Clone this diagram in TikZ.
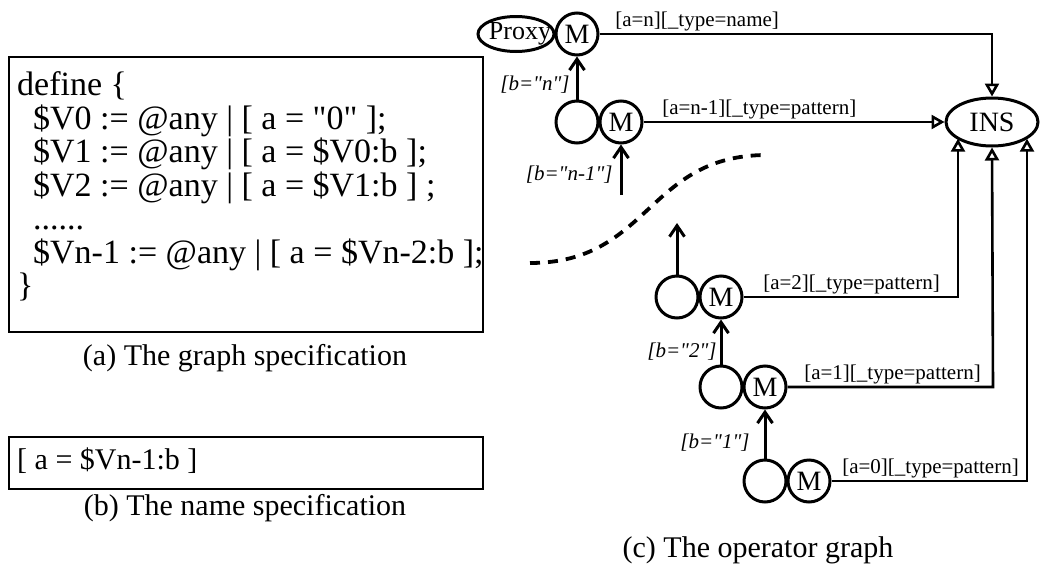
\documentclass[tikz,border=0pt]{standalone}
\usepackage{fontspec}
% plain ASCII quotes, no TeX quote ligatures
\setmainfont{Liberation Serif}[Ligatures=TeXOff]
\usetikzlibrary{arrows.meta,shapes.geometric}
\newcommand{\us}{{\char"5F}}

\begin{document}
\begin{tikzpicture}[x=1pt,y=-1pt,
  frame/.style={draw, line width=2.6pt},
  code/.style={anchor=base west, inner sep=0pt, font=\fontsize{34}{34}\selectfont},
  namecode/.style={anchor=base west, inner sep=0pt, font=\fontsize{30}{30}\selectfont},
  caption/.style={anchor=base, inner sep=0pt, font=\fontsize{30}{30}\selectfont},
  op/.style={circle, draw, line width=3pt, minimum size=42pt, inner sep=0pt,
             font=\fontsize{28}{28}\selectfont},
  proxyshape/.style={ellipse, draw, line width=3pt, minimum width=76pt,
             minimum height=35pt, inner sep=0pt},
  insshape/.style={ellipse, draw, line width=3pt, minimum width=92pt,
             minimum height=48pt, inner sep=0pt, font=\fontsize{28}{28}\selectfont},
  feed/.style={line width=2.6pt, -{Triangle[open, length=13pt, width=14pt, line width=2.6pt]}},
  chain/.style={line width=3pt, -{Straight Barb[length=11pt, width=15pt, line width=3pt]}},
  elab/.style={font=\fontsize{21}{21}\selectfont, inner sep=1.5pt, anchor=south west},
  blab/.style={font=\fontsize{21}{21}\selectfont\itshape, inner sep=1pt, anchor=east},
  gap/.style={line width=3.8pt, dash pattern=on 10pt off 8pt}
]
\useasboundingbox (0,0) rectangle (1041,565);

% (a) graph specification
\draw[frame] (9,57) rectangle (483,332);
\node[code] (l0) at (17,95.5) {define \{};
\node[code] (l1) at (33,129) {\$V0 := @any | [ a = "0" ];};
\node[code] (l2) at (33,162.5) {\$V1 := @any | [ a = \$V0:b ];};
\node[code] (l3) at (33,196) {\$V2 := @any | [ a = \$V1:b ] ;};
\node[code] (l4) at (33,229.5) {......};
\node[code] (l5) at (33,263) {\$Vn-1 := @any | [ a = \$Vn-2:b ];};
\node[code] (l6) at (17,296.5) {\}};
\node[caption] (capa) at (245,365) {(a) The graph specification};

% (b) name specification
\draw[frame] (9,437) rectangle (483,489);
\node[namecode] (nm) at (17,469) {[ a = \$Vn-1:b ]};
\node[caption] (capb) at (245,515) {(b) The name specification};

% (c) operator graph
\node[proxyshape, label={[xshift=4pt, font=\fontsize{26}{26}\selectfont]center:Proxy}] (proxy) at (516,34) {};
\node[op] (mn)  at (577,34)  {M};
\node[op] (ln1) at (577,122) {};
\node[op] (mn1) at (621,122) {M};
\node[op] (lb2) at (677,297) {};
\node[op] (mb2) at (721,297) {M};
\node[op] (lb1) at (721,387) {};
\node[op] (mb1) at (765,387) {M};
\node[op] (lb0) at (765,481) {};
\node[op] (mb0) at (809,481) {M};
\node[insshape] (ins) at (992,122) {INS};

\coordinate (in1) at (621,195);
\coordinate (up2) at (677,223);
\coordinate (k2) at (958,297);
\coordinate (k1) at (993,387);
\coordinate (k0) at (1027,481);
\coordinate (d1) at (530,263);
\coordinate (d2) at (767,155);

% chain of b-values
\draw[chain] (ln1.north) -- node[blab, pos=.35, xshift=-5pt] {[b="n"]} (mn.south);
\draw[chain] (in1) -- node[blab, pos=.4, xshift=-6pt] {[b="n-1"]} (mn1.south);
\draw[chain] (lb2.north) -- (up2);
\draw[chain] (lb1.north) -- node[blab, pos=.28, xshift=-2pt] {[b="2"]} (mb2.south);
\draw[chain] (lb0.north) -- node[blab, pos=.32, xshift=-13pt] {[b="1"]} (mb1.south);

% elided part of the chain
\draw[gap] (d1) .. controls +(120,0) and +(-120,0) .. (d2);

% feeds into INS
\draw[feed] (mn.east) -- node[elab, pos=0, xshift=13pt] {[a=n][\us type=name]} (mn.east -| ins.north) -- (ins.north);
\draw[feed] (mn1.east) -- node[elab, pos=0, xshift=16pt] {[a=n-1][\us type=pattern]} (ins.west);
\draw[feed] (mb2.east) -- node[elab, pos=0, xshift=17pt] {[a=2][\us type=pattern]} (k2) -- (k2 |- ins.205);
\draw[feed] (mb1.east) -- node[elab, pos=0, xshift=14pt] {[a=1][\us type=pattern]} (k1) -- (ins.south);
\draw[feed] (mb0.east) -- node[elab, pos=0, xshift=8pt] {[a=0][\us type=pattern]} (k0) -- (k0 |- ins.335);

\node[caption] (capc) at (758,557) {(c) The operator graph};
\end{tikzpicture}
\end{document}
